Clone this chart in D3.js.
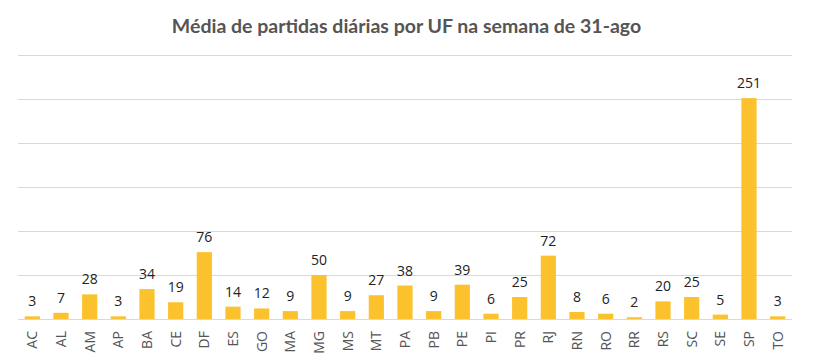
<!DOCTYPE html>
<html>
<head>
<meta charset="utf-8">
<script src="https://cdn.jsdelivr.net/npm/d3@7"></script>
<style>
	body { margin: 0; background: #fff; }
	svg { display: block; }
</style>
</head>
<body>
<div id="chart"></div>
<script>
	var ufs = ['AC', 'AL', 'AM', 'AP', 'BA', 'CE', 'DF', 'ES', 'GO', 'MA', 'MG', 'MS', 'MT', 'PA',
		'PB', 'PE', 'PI', 'PR', 'RJ', 'RN', 'RO', 'RR', 'RS', 'SC', 'SE', 'SP', 'TO'];
	var partidas = [3, 7, 28, 3, 34, 19, 76, 14, 12, 9, 50, 9, 27, 38,
		9, 39, 6, 25, 72, 8, 6, 2, 20, 25, 5, 251, 3];
	var yTicks = [0, 50, 100, 150, 200, 250, 300];

	var width = 813, height = 362;
	var plotLeft = 18, plotRight = 792, plotTop = 55, plotBottom = 319;

	var svg = d3.select('#chart').append('svg')
		.attr('width', width)
		.attr('height', height);

	// titulo
	svg.append('text')
		.attr('x', width / 2)
		.attr('y', 33)
		.attr('text-anchor', 'middle')
		.attr('font-family', 'Lato, sans-serif')
		.attr('font-weight', 'bold')
		.attr('font-size', '19.5px')
		.attr('fill', '#555')
		.text('Média de partidas diárias por UF na semana de 31-ago');

	var x = d3.scaleBand().domain(ufs).range([plotLeft, plotRight]).paddingInner(0.47).paddingOuter(0.235);
	var y = d3.scaleLinear().domain([0, 300]).range([plotBottom, plotTop]);

	// linhas de grade
	svg.append('g').selectAll('line')
		.data(yTicks)
		.enter()
		.append('line')
		.attr('x1', plotLeft)
		.attr('x2', plotRight)
		.attr('y1', function (d) { return Math.round(y(d)) + 0.5; })
		.attr('y2', function (d) { return Math.round(y(d)) + 0.5; })
		.attr('stroke', '#d9d9d9')
		.attr('stroke-width', 1);

	var data = ufs.map(function (uf, i) { return { uf: uf, v: partidas[i] }; });

	svg.append('g').selectAll('rect')
		.data(data)
		.enter()
		.append('rect')
		.attr('x', function (d) { return x(d.uf); })
		.attr('width', x.bandwidth())
		.attr('y', function (d) { return y(d.v); })
		.attr('height', function (d) { return y(0) - y(d.v); })
		.attr('fill', '#fbc22e');

	svg.append('g').selectAll('text')
		.data(data)
		.enter()
		.append('text')
		.attr('x', function (d) { return x(d.uf) + x.bandwidth() / 2; })
		.attr('y', function (d) { return y(d.v) - 10; })
		.attr('text-anchor', 'middle')
		.attr('font-family', '"Open Sans", sans-serif')
		.attr('font-size', '14px')
		.attr('fill', '#222')
		.text(function (d) { return d.v; });

	// rotulos do eixo x
	svg.append('g').selectAll('text')
		.data(ufs)
		.enter()
		.append('text')
		.attr('transform', function (d) {
			return 'translate(' + (x(d) + x.bandwidth() / 2) + ',' + (plotBottom + 12) + ') rotate(-90)';
		})
		.attr('text-anchor', 'end')
		.attr('dy', '0.35em')
		.attr('font-family', '"Open Sans", sans-serif')
		.attr('font-size', '14px')
		.attr('fill', '#555')
		.text(function (d) { return d; });
</script>
</body>
</html>
